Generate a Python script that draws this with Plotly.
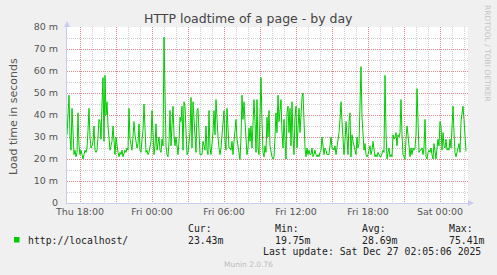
import plotly.graph_objects as go
import pandas as pd

W, H = 497, 275
L, R, T, B = 67, 29, 27, 72

# ---- data (load time in milliseconds, 5-minute samples) ----
start_time = "2025-12-25 16:55"
load_thu_evening = [
    31, 38, 49, 30, 24, 43, 30, 22, 24, 21,
    23, 41, 26, 22, 24, 21, 20, 22, 24, 23,
    25, 33, 43, 30, 25, 26, 28, 35, 24, 23,
    24, 30, 38, 37, 29, 45, 57, 28, 58, 40,
    46, 35, 27, 24, 26, 28, 35, 25, 22, 30,
    25, 23, 21, 23, 22, 24, 21, 23, 24, 23,
    25, 24, 43, 29, 25, 24, 30, 37, 31, 28,
    25, 27, 36, 24, 23, 29, 33, 45, 28, 23,
    24, 22, 23, 25, 28, 42, 30, 22, 26, 36,
    24, 28, 30, 24, 23, 29, 26, 75.41, 40,
]
load_fri_morning = [
    26, 22, 21, 28, 42, 26, 35, 44, 31, 26,
    30, 25, 22, 28, 39, 37, 44, 24, 46, 44,
    34, 22, 23, 30, 32, 48, 25, 46, 37, 28,
    23, 42, 43, 32, 22, 22, 22, 28, 25, 24,
    35, 24, 22, 42, 25, 22, 27, 32, 42, 31,
    47, 37, 30, 25, 22, 25, 32, 38, 42, 28,
    24, 43, 29, 25, 25, 24, 28, 22, 28, 32,
    38, 29, 25, 22, 19.75, 30, 49, 38, 46, 37,
    25, 22, 25, 34, 28, 35, 25, 37, 47, 37,
    23, 47, 25, 22, 41, 57, 37, 23, 21, 26,
    23,
]
load_fri_afternoon = [
    39, 30, 42, 26, 22, 21, 20, 21, 30, 41,
    32, 49, 37, 43, 47, 32, 25, 38, 30, 20,
    41, 44, 32, 43, 26, 46, 30, 22, 39, 44,
    25, 37, 43, 32, 41, 48, 50, 37, 25, 21,
    25, 22, 24, 22, 22, 25, 21, 22, 24, 22,
    21, 22, 21, 23, 24, 30, 26, 22, 25, 24,
    22, 22, 22, 26, 30, 25, 25, 24, 26, 22,
    25, 28, 32, 38, 46, 37, 25, 22, 28, 37,
    30, 22, 37, 41, 21, 31, 28, 26, 23, 22,
    30, 25, 27, 44, 62, 39, 30, 24, 27, 22,
]
load_fri_night = [
    21, 22, 24, 26, 22, 24, 28, 23, 21, 22,
    21, 23, 22, 21, 21, 23, 24, 23, 58, 32,
    20, 23, 25, 21, 22, 21, 31, 29, 30, 32,
    26, 31, 30, 32, 47, 31, 22, 21, 20, 29,
    35, 31, 26, 21, 25, 22, 25, 24, 25, 31,
    52, 37, 23, 24, 24, 25, 22, 25, 38, 21,
    20, 23, 24, 23, 25, 22, 20, 27, 24, 20,
    25, 29, 26, 37, 35, 24, 32, 26, 25, 29,
    24, 25, 24, 29, 25, 37, 44, 32, 23, 21,
    24, 25, 27, 23, 37, 40, 44, 38, 27, 23.43,
]

y_tick_values = [0, 10, 20, 30, 40, 50, 60, 70, 80]
y_tick_labels = ["0", "10 m", "20 m", "30 m", "40 m", "50 m", "60 m", "70 m", "80 m"]

series_name = "http://localhost/"
stat_names = ["Cur:", "Min:", "Avg:", "Max:"]
stat_values = ["23.43m", "19.75m", "28.69m", "75.41m"]
last_update = "Last update: Sat Dec 27 02:05:06 2025"

values = load_thu_evening + load_fri_morning + load_fri_afternoon + load_fri_night
times = pd.date_range(start_time, periods=len(values), freq="5min")

x_major = pd.date_range("2025-12-25 18:00", "2025-12-27 00:00", freq="3h")
x_labels = [t.strftime("%a %H:%M") if t.hour % 6 == 0 else "" for t in x_major]

# ---- helpers: pixel -> paper ----
PW, PH = W - L - R, H - T - B
def px(x):
    return (x - L) / PW
def py(y):
    return (H - B - y) / PH

GREEN = "#00CC00"
MAJOR = "rgba(235,80,80,0.55)"
MINOR = "rgba(150,150,150,0.45)"
AXIS = "#C9CCEE"

fig = go.Figure()
fig.add_trace(go.Scatter(
    x=times, y=values, mode="lines",
    line=dict(color=GREEN, width=1), showlegend=False, hoverinfo="skip",
))

fig.update_layout(
    width=W, height=H,
    margin=dict(l=L, r=R, t=T, b=B, pad=0),
    paper_bgcolor="#F0F0F0", plot_bgcolor="#FFFFFF",
    font=dict(family="DejaVu Sans", size=10, color="#555555"),
    showlegend=False,
)

fig.update_xaxes(
    range=["2025-12-25 16:55", "2025-12-27 02:20"],
    tickvals=list(x_major), ticktext=x_labels,
    showgrid=True, gridcolor=MAJOR, griddash="1px,1px", gridwidth=1,
    minor=dict(dtick=3600000, tick0="2025-12-25 17:00", showgrid=True,
               gridcolor=MINOR, griddash="1px,1px", gridwidth=1),
    showline=True, linecolor=AXIS, linewidth=1,
    ticks="", tickfont=dict(family="DejaVu Sans", size=9.5, color="#555555"),
    zeroline=False, fixedrange=True,
)
fig.update_yaxes(
    range=[0, 80],
    tickvals=y_tick_values, ticktext=y_tick_labels,
    showgrid=True, gridcolor=MAJOR, griddash="1px,1px", gridwidth=1,
    minor=dict(dtick=5, showgrid=True, gridcolor=MINOR, griddash="1px,1px", gridwidth=1),
    showline=True, linecolor=AXIS, linewidth=1,
    ticks="", ticklabelstandoff=6,
    tickfont=dict(family="DejaVu Sans", size=9.5, color="#555555"),
    zeroline=False, fixedrange=True,
)

shapes = []
# axis arrows
shapes.append(dict(type="path", xref="paper", yref="paper",
                   path=f"M {px(64)} {py(27)} L {px(70)} {py(27)} L {px(67)} {py(21)} Z",
                   fillcolor=AXIS, line=dict(width=0)))
shapes.append(dict(type="path", xref="paper", yref="paper",
                   path=f"M {px(468)} {py(200)} L {px(468)} {py(206)} L {px(474)} {py(203)} Z",
                   fillcolor=AXIS, line=dict(width=0)))
# legend swatch
shapes.append(dict(type="rect", xref="paper", yref="paper",
                   x0=px(14), x1=px(19.5), y0=py(242.5), y1=py(237),
                   fillcolor=GREEN, line=dict(width=0)))
fig.update_layout(shapes=shapes)

ann = []
def text(x, y, s, size=10, color="#222222", family="DejaVu Sans", xanchor="left", angle=0):
    ann.append(dict(x=px(x), y=py(y), xref="paper", yref="paper", text=s,
                    showarrow=False, xanchor=xanchor, yanchor="middle",
                    textangle=angle, font=dict(family=family, size=size, color=color)))

text(248, 18, "HTTP loadtime of a page - by day", size=12.5, color="#444444", xanchor="center")
text(14, 116, "Load time in seconds", size=11, color="#555555", xanchor="center", angle=-90)
text(488, 53, "RRDTOOL / TOBI OETIKER", size=7.5, color="#C4C4C4", xanchor="center", angle=90)

MONO = "DejaVu Sans Mono"
text(25.5, 240, series_name, size=9.8, family=MONO)
stat_x = [185.5, 272.5, 359.5, 446.5]
for sx, name, val in zip(stat_x, stat_names, stat_values):
    text(sx, 228, name, size=9.8, family=MONO)
    text(sx, 240, val, size=9.8, family=MONO)
text(483, 251.5, last_update, size=9.8, family=MONO, xanchor="right")
text(248, 264, "Munin 2.0.76", size=7.5, color="#BBBBBB", xanchor="center")

fig.update_layout(annotations=ann)

fig.write_html("out.html", config={"displayModeBar": False})
